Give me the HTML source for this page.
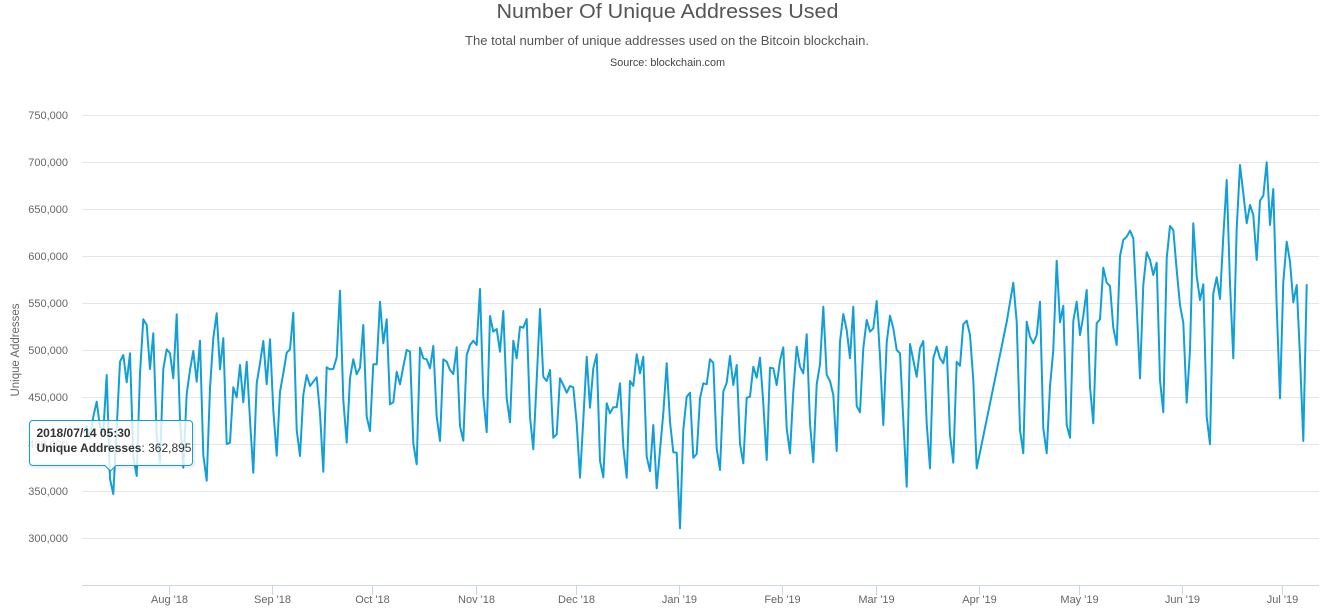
<!DOCTYPE html>
<html>
<head>
<meta charset="utf-8">
<style>
  html, body { margin: 0; padding: 0; background: #ffffff; }
  svg { display: block; font-family: "Liberation Sans", Arial, sans-serif; }
</style>
</head>
<body>
<svg width="1343" height="610" viewBox="0 0 1343 610" xmlns="http://www.w3.org/2000/svg">
  <rect x="0" y="0" width="1343" height="610" fill="#ffffff"/>

  <!-- Titles -->
  <text x="667.5" y="18" text-anchor="middle" font-size="20" fill="#555555" textLength="342" lengthAdjust="spacingAndGlyphs">Number Of Unique Addresses Used</text>
  <text x="667" y="45" text-anchor="middle" font-size="12.5" fill="#555555" textLength="404" lengthAdjust="spacingAndGlyphs">The total number of unique addresses used on the Bitcoin blockchain.</text>
  <text x="667.5" y="66" text-anchor="middle" font-size="11" fill="#444444" textLength="115" lengthAdjust="spacingAndGlyphs">Source: blockchain.com</text>

  <!-- Gridlines -->
  <g stroke="#e6e6e6" stroke-width="1">
    <line x1="82" y1="115.5" x2="1319" y2="115.5"/>
    <line x1="82" y1="162.5" x2="1319" y2="162.5"/>
    <line x1="82" y1="209.5" x2="1319" y2="209.5"/>
    <line x1="82" y1="256.5" x2="1319" y2="256.5"/>
    <line x1="82" y1="303.5" x2="1319" y2="303.5"/>
    <line x1="82" y1="350.5" x2="1319" y2="350.5"/>
    <line x1="82" y1="397.5" x2="1319" y2="397.5"/>
    <line x1="82" y1="444.5" x2="1319" y2="444.5"/>
    <line x1="82" y1="491.5" x2="1319" y2="491.5"/>
    <line x1="82" y1="538.5" x2="1319" y2="538.5"/>
  </g>
  <!-- X axis line -->
  <line x1="82" y1="585.5" x2="1319" y2="585.5" stroke="#ccd6eb" stroke-width="1"/>

  <!-- Y labels -->
  <g font-size="11" fill="#666666" text-anchor="end">
    <text x="68" y="119">750,000</text>
    <text x="68" y="166">700,000</text>
    <text x="68" y="213">650,000</text>
    <text x="68" y="260">600,000</text>
    <text x="68" y="307">550,000</text>
    <text x="68" y="354">500,000</text>
    <text x="68" y="401">450,000</text>
    <text x="68" y="448">400,000</text>
    <text x="68" y="495">350,000</text>
    <text x="68" y="542">300,000</text>
  </g>

  <!-- Y axis title -->
  <text transform="translate(19,350) rotate(-90)" text-anchor="middle" font-size="11.5" fill="#666666" textLength="93" lengthAdjust="spacingAndGlyphs">Unique Addresses</text>

  <!-- X ticks -->
  <g stroke="#ccd6eb" stroke-width="1">
    <line x1="169.5" y1="585" x2="169.5" y2="595"/>
    <line x1="272.5" y1="585" x2="272.5" y2="595"/>
    <line x1="372.5" y1="585" x2="372.5" y2="595"/>
    <line x1="476.5" y1="585" x2="476.5" y2="595"/>
    <line x1="576.5" y1="585" x2="576.5" y2="595"/>
    <line x1="679.5" y1="585" x2="679.5" y2="595"/>
    <line x1="782.5" y1="585" x2="782.5" y2="595"/>
    <line x1="876.5" y1="585" x2="876.5" y2="595"/>
    <line x1="979.5" y1="585" x2="979.5" y2="595"/>
    <line x1="1079.5" y1="585" x2="1079.5" y2="595"/>
    <line x1="1182.5" y1="585" x2="1182.5" y2="595"/>
    <line x1="1282.5" y1="585" x2="1282.5" y2="595"/>
  </g>

  <!-- X labels -->
  <g font-size="11" fill="#666666" text-anchor="middle">
    <text x="169.5" y="603">Aug '18</text>
    <text x="272.5" y="603">Sep '18</text>
    <text x="372.5" y="603">Oct '18</text>
    <text x="476.5" y="603">Nov '18</text>
    <text x="576.5" y="603">Dec '18</text>
    <text x="679.5" y="603">Jan '19</text>
    <text x="782.5" y="603">Feb '19</text>
    <text x="876.5" y="603">Mar '19</text>
    <text x="979.5" y="603">Apr '19</text>
    <text x="1079.5" y="603">May '19</text>
    <text x="1182.5" y="603">Jun '19</text>
    <text x="1282.5" y="603">Jul '19</text>
  </g>

  <!-- Series -->
  <polyline fill="none" stroke="#129fd7" stroke-width="2" stroke-linejoin="round" stroke-linecap="round" points="
83.3,432 86.7,426 90,438 93.3,416.7 96.7,401.7 100,426.7 103.3,432 106.7,375 110,479 113.3,494 116.7,428 120,361.7 123.3,355 126.7,382.3 130,353.3 133.3,456.7 136.7,476 140,373.3 143.3,319.3 146.7,325 150,369 153.3,333.3 156.7,436.7 160,462.7 163.3,369 166.7,349.3 170,353.3 173.3,378.3 176.7,314.3 180,420 183.3,467.7 186.7,394 190,370 193.3,351 196.7,381.7 200,340.7 203.3,455 206.7,480.7 210,388.3 213.3,338.3 216.7,313.3 220,369.3 223.3,338.3 226.7,444 230,442.7 233.3,387.3 236.7,397.3 240,365 243.3,402.3 246.7,361.7 250,420 253.3,472.7 256.7,383.3 260,363.3 263.3,341 266.7,384.3 270,339.3 273.3,410 276.7,455.7 280,391.7 283.3,373.3 286.7,352.7 290,349.3 293.3,312.7 296.7,430 300,456 303.3,395 306.7,375 310,386 313.3,381.7 316.7,377.3 320,413.3 323.3,471.7 326.7,367.3 330,369.3 333.3,369 336.7,357.3 340,290.7 343.3,400 346.7,442.7 350,378.3 353.3,359.3 356.7,374.3 360,367.7 363.3,325 366.7,416.7 370,431 373.3,364.3 376.7,364.3 380,301.7 383.3,343.3 386.7,319.3 390,404.3 393.3,402.3 396.7,371.7 400,384.3 403.3,366.7 406.7,350 410,351.7 413.3,443.3 416.7,464.3 420,347.7 423.3,358.3 426.7,359.3 430,368.3 433.3,346 436.7,416.7 440,441 443.3,359.3 446.7,361.7 450,370 453.3,374 456.7,347.3 460,426 463.3,440.7 466.7,355 470,345 473.3,340.7 476.7,345 480,289 483.3,396.7 486.7,432.3 490,316 493.3,331.7 496.7,329 500,351.7 503.3,311 506.7,398.3 510,422.3 513.3,340.7 516.7,358.3 520,326.7 523.3,327.7 526.7,319 530,416.7 533.3,449.3 536.7,380 540,309 543.3,376.7 546.7,381 550,370 553.3,437.7 556.7,434.3 560,378.3 563.3,385 566.7,392.7 570,386 573.3,387.3 576.7,423.3 580,477.7 583.3,420 586.7,356.7 590,407.7 593.3,368.3 596.7,354.3 600,460.7 603.3,477.3 606.7,403.3 610,413.3 613.3,407.3 616.7,407.3 620,383.3 623.3,446.7 626.7,477.7 630,381 633.3,386 636.7,354.3 640,373.3 643.3,356.7 646.7,456.7 650,471 653.3,425 656.7,488.3 660,450 663.3,413.3 666.7,363.3 670,421.7 673.3,452.3 676.7,452.7 680,528.3 683.3,430 686.7,396.7 690,392.7 693.3,457.7 696.7,454 700,398.3 703.3,383.3 706.7,384.3 710,359.3 713.3,362.7 716.7,448.3 720,470 723.3,391.7 726.7,382.7 730,356 733.3,385 736.7,365 740,444 743.3,463.3 746.7,397.7 750,396.7 753.3,366.7 756.7,377.7 760,357.7 763.3,403.3 766.7,460 770,367.7 773.3,368.3 776.7,385 780,360.7 783.3,347.3 786.7,428.3 790,453.3 793.3,391.7 796.7,346.7 800,366.7 803.3,373.3 806.7,334.3 810,423.3 813.3,462.3 816.7,384.3 820,364.3 823.3,306.7 826.7,375 830,381 833.3,395 836.7,451 840,341.7 843.3,314 846.7,330 850,358.3 853.3,306.7 856.7,406 860,412.3 863.3,348.3 866.7,320 870,331.7 873.3,328.3 876.7,301 880,356.7 883.3,425 886.7,342.7 890,315.7 893.3,328.3 896.7,350 900,353.3 903.3,420 906.7,486.7 910,344 913.3,360 916.7,376.7 920,348.3 923.3,341 926.7,423.3 930,468.3 933.3,358.3 936.7,346.7 940,358.3 943.3,363.3 946.7,346.7 950,435 953.3,462.7 956.7,361.7 960,365.7 963.3,324.3 966.7,320.7 970,335 973.3,380 976.7,468.3 1006.7,322 1013.3,282.7 1016.7,321.7 1020,430 1023.3,453.3 1026.7,321.7 1030,336.7 1033.3,343.3 1036.7,335 1040,301.7 1043.3,428.3 1046.7,453.3 1050,386.7 1053.3,350 1056.7,260.7 1060,322.3 1063.3,305.7 1066.7,425 1070,437.7 1073.3,321 1076.7,301.7 1080,335 1083.3,316 1086.7,290 1090,386.7 1093.3,423.3 1096.7,323.3 1100,319.3 1103.3,267.7 1106.7,282.7 1110,286 1113.3,327.7 1116.7,345 1120,256 1123.3,240 1126.7,236.7 1130,230.7 1133.3,238.3 1136.7,306.7 1140,378.3 1143.3,285 1146.7,252.3 1150,260 1153.3,275 1156.7,262.7 1160,380 1163.3,412.3 1166.7,258.3 1170,226 1173.3,230 1176.7,270 1180,305 1183.3,322.7 1186.7,402.7 1190,350 1193.3,223.3 1196.7,276 1200,300 1203.3,284.3 1206.7,416.7 1210,444.3 1213.3,293.3 1216.7,277.3 1220,299 1223.3,236.7 1226.7,180 1230,283.3 1233.3,358.3 1236.7,228.3 1240,165 1243.3,193.3 1246.7,223.3 1250,205 1253.3,215 1256.7,260 1260,200.7 1263.3,195.7 1266.7,162.3 1270,225 1273.3,189 1276.7,306.7 1280,398.3 1283.3,282 1286.7,241.7 1290,261.7 1293.3,302.3 1296.7,285 1300,356.7 1303.3,441 1306.7,285"/>

  <!-- Tooltip -->
  <g>
    <path d="M 34 423 L 190 423 C 192 423 194 424 194 426 L 194 464 C 194 466 192 467 190 467 L 118 467 L 112 473 L 106 467 L 34 467 C 32 467 31 466 31 464 L 31 426 C 31 424 32 423 34 423 Z" fill="none" stroke="#000000" stroke-opacity="0.06" stroke-width="3"/>
    <path d="M 33 420.5 L 189 420.5 C 191 420.5 192.5 422 192.5 424 L 192.5 462 C 192.5 464 191 465.5 189 465.5 L 116 465.5 L 110.5 471 L 105 465.5 L 33 465.5 C 31 465.5 29.5 464 29.5 462 L 29.5 424 C 29.5 422 31 420.5 33 420.5 Z" fill="#ffffff" fill-opacity="0.8" stroke="#129fd7" stroke-width="1"/>
    <text x="36.5" y="437" font-size="12" font-weight="bold" fill="#333333">2018/07/14 05:30</text>
    <text x="36.5" y="452" font-size="12" fill="#333333"><tspan font-weight="bold">Unique Addresses</tspan>: 362,895</text>
  </g>
</svg>
</body>
</html>
